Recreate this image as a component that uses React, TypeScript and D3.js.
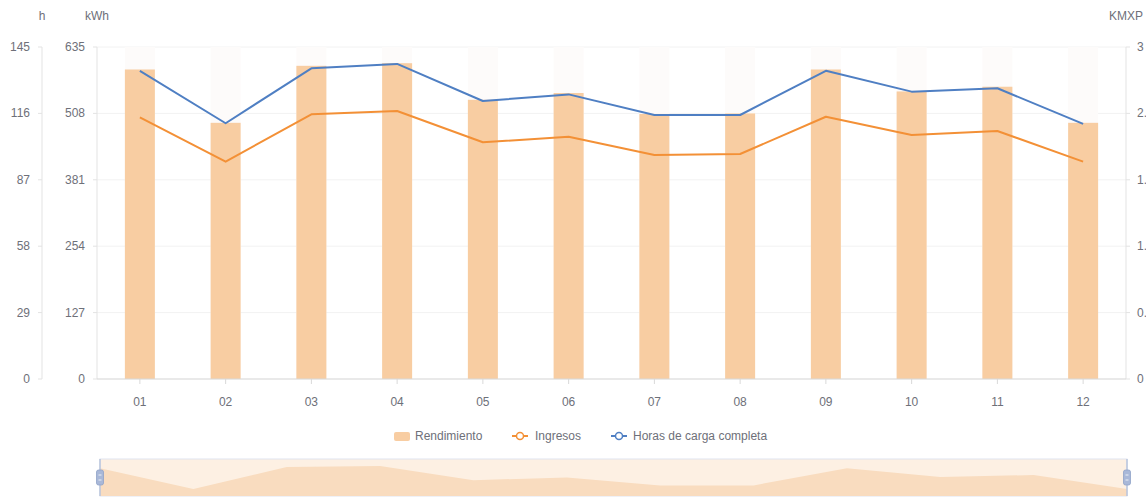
import React from "react";
import * as d3 from "d3";

const months = ["01", "02", "03", "04", "05", "06", "07", "08", "09", "10", "11", "12"];
const rendimiento = [592, 490, 599, 604, 534, 547, 507, 508, 592, 550, 559, 490];
const ingresos = [2.365, 1.964, 2.392, 2.422, 2.139, 2.189, 2.024, 2.033, 2.37, 2.205, 2.241, 1.964];
const horas = [134.6, 111.7, 135.7, 137.6, 121.4, 124.3, 115.3, 115.3, 134.6, 125.5, 127.0, 111.4];

const kwhTicks = [0, 127, 254, 381, 508, 635];
const hTicks = [0, 29, 58, 87, 116, 145];
const kmxpTicks = [0, 0.6, 1.2, 1.8, 2.4, 3];

const W = 1146;
const H = 497;
const L = 97;
const R = 1126;
const TOP = 47;
const BOT = 379;
const HAXIS = 42;

const BAR = "#f8cda2";
const BLUE = "#4f7fc3";
const ORANGE = "#f39036";
const LABEL = "#6e7079";
const AXIS = "#e3e3e3";
const GRID = "#f2f2f2";
const FONT = "'Liberation Sans', Arial, sans-serif";

export default function App() {
  const x = d3.scaleBand<string>().domain(months).range([L, R]);
  const yK = d3.scaleLinear().domain([0, 635]).range([BOT, TOP]);
  const yH = d3.scaleLinear().domain([0, 145]).range([BOT, TOP]);
  const yM = d3.scaleLinear().domain([0, 3]).range([BOT, TOP]);
  const cx = (m: string) => (x(m) as number) + x.bandwidth() / 2;
  const barW = 30;

  const lineH = d3
    .line<number>()
    .x((_, i) => cx(months[i]))
    .y((d) => yH(d));
  const lineM = d3
    .line<number>()
    .x((_, i) => cx(months[i]))
    .y((d) => yM(d));

  // data zoom slider
  const sL = 100;
  const sR = 1127;
  const sT = 459;
  const sB = 496;
  const ext = d3.extent(rendimiento) as [number, number];
  const pad = (ext[1] - ext[0]) * 0.3;
  const sx = d3.scalePoint<string>().domain(months).range([sL, sR]);
  const sy = d3.scaleLinear().domain([ext[0] - pad, ext[1] + pad]).range([sB, sT]);
  const area = d3
    .area<number>()
    .x((_, i) => sx(months[i]) as number)
    .y0(sB)
    .y1((d) => sy(d));

  const fmt = (v: number) => String(v);

  return (
    <div style={{ position: "absolute", left: 0, top: 0 }}>
      <svg width={W} height={H} style={{ display: "block", fontFamily: FONT }}>
        <rect x={0} y={0} width={W} height={H} fill="#fff" />
        {/* unit labels */}
        <text x={HAXIS} y={20} textAnchor="middle" fontSize={12} fill={LABEL}>h</text>
        <text x={L} y={20} textAnchor="middle" fontSize={12} fill={LABEL}>kWh</text>
        <text x={R} y={20} textAnchor="middle" fontSize={12} fill={LABEL}>KMXP</text>

        {/* grid */}
        {kwhTicks.map((t) => (
          <line key={"g" + t} x1={L} x2={R} y1={yK(t)} y2={yK(t)} stroke={GRID} strokeWidth={1} />
        ))}

        {/* axes lines */}
        <line x1={HAXIS} x2={HAXIS} y1={TOP} y2={BOT} stroke={AXIS} />
        <line x1={L} x2={L} y1={TOP} y2={BOT} stroke={AXIS} />
        <line x1={R} x2={R} y1={TOP} y2={BOT} stroke={AXIS} />

        {/* h axis */}
        {hTicks.map((t) => (
          <g key={"h" + t}>
            <line x1={HAXIS - 4} x2={HAXIS} y1={yH(t)} y2={yH(t)} stroke={AXIS} />
            <text x={30} y={yH(t) + 4} textAnchor="end" fontSize={12} fill={LABEL}>{fmt(t)}</text>
          </g>
        ))}
        {/* kWh axis */}
        {kwhTicks.map((t) => (
          <g key={"k" + t}>
            <line x1={L - 4} x2={L} y1={yK(t)} y2={yK(t)} stroke={AXIS} />
            <text x={85} y={yK(t) + 4} textAnchor="end" fontSize={12} fill={LABEL}>{fmt(t)}</text>
          </g>
        ))}
        {/* KMXP axis */}
        {kmxpTicks.map((t) => (
          <g key={"m" + t}>
            <line x1={R} x2={R + 4} y1={yM(t)} y2={yM(t)} stroke={AXIS} />
            <text x={1137} y={yM(t) + 4} textAnchor="start" fontSize={12} fill={LABEL}>{fmt(t)}</text>
          </g>
        ))}

        {/* bars with background */}
        {months.map((m, i) => (
          <g key={"b" + m}>
            <rect x={cx(m) - barW / 2} y={TOP} width={barW} height={BOT - TOP} fill="#fdfbfa" />
            <rect
              x={cx(m) - barW / 2}
              y={yK(rendimiento[i])}
              width={barW}
              height={BOT - yK(rendimiento[i])}
              fill={BAR}
            />
          </g>
        ))}

        {/* x axis */}
        <line x1={L} x2={R} y1={BOT} y2={BOT} stroke="#d9d9d9" />
        {months.map((m) => (
          <g key={"x" + m}>
            <line x1={cx(m)} x2={cx(m)} y1={BOT} y2={BOT + 5} stroke="#d9d9d9" />
            <text x={cx(m)} y={406} textAnchor="middle" fontSize={12} fill={LABEL}>{m}</text>
          </g>
        ))}

        {/* lines */}
        <path d={lineM(ingresos) || ""} fill="none" stroke={ORANGE} strokeWidth={2} strokeLinejoin="round" />
        <path d={lineH(horas) || ""} fill="none" stroke={BLUE} strokeWidth={2} strokeLinejoin="round" />

        {/* legend */}
        <g fontSize={12} fill={LABEL}>
          <rect x={394} y={432} width={16} height={9} rx={2} fill={BAR} />
          <text x={415} y={440}>Rendimiento</text>
          <line x1={512} x2={528} y1={436} y2={436} stroke={ORANGE} strokeWidth={2} />
          <circle cx={520} cy={436} r={3.5} fill="#fff" stroke={ORANGE} strokeWidth={1.5} />
          <text x={535} y={440}>Ingresos</text>
          <line x1={611} x2={627} y1={436} y2={436} stroke={BLUE} strokeWidth={2} />
          <circle cx={619} cy={436} r={3.5} fill="#fff" stroke={BLUE} strokeWidth={1.5} />
          <text x={633} y={440}>Horas de carga completa</text>
        </g>

        {/* data zoom slider */}
        <rect x={sL} y={sT} width={sR - sL} height={sB - sT} fill="#fdf0e3" stroke="#dfe4ef" strokeWidth={1} />
        <path d={area(rendimiento) || ""} fill="#f9dcbf" />
        <line x1={sL} x2={sL} y1={sT} y2={sB} stroke="#b9c4dc" strokeWidth={1.5} />
        <line x1={sR} x2={sR} y1={sT} y2={sB} stroke="#b9c4dc" strokeWidth={1.5} />
        {[sL, sR].map((hx) => (
          <g key={"hd" + hx}>
            <rect x={hx - 3.5} y={470} width={7} height={15} rx={2} fill="#a9b8d8" stroke="#8fa2c8" strokeWidth={0.8} />
            <line x1={hx - 1.5} x2={hx + 1.5} y1={475} y2={475} stroke="#fff" strokeWidth={0.8} />
            <line x1={hx - 1.5} x2={hx + 1.5} y1={480} y2={480} stroke="#fff" strokeWidth={0.8} />
          </g>
        ))}
      </svg>
    </div>
  );
}
